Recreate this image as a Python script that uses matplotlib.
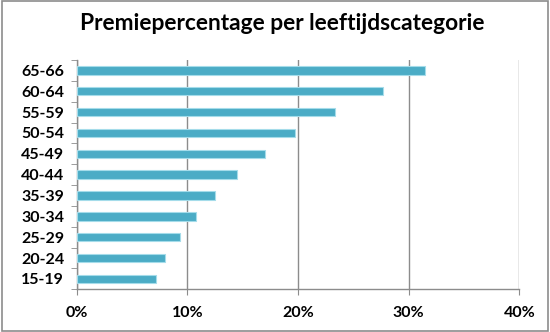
import matplotlib.pyplot as plt
from matplotlib.ticker import PercentFormatter
from matplotlib.patches import Rectangle

# leeftijdscategorieën van onder naar boven
categories = ['15-19', '20-24', '25-29', '30-34', '35-39', '40-44',
              '45-49', '50-54', '55-59', '60-64', '65-66']
premie = [7.2, 8.0, 9.3, 10.8, 12.5, 14.5, 17.0, 19.75, 23.3, 27.7, 31.5]
xticks = [0, 10, 20, 30, 40]

plt.rcParams['font.family'] = ['Lato', 'DejaVu Sans']

fig = plt.figure(figsize=(5.5, 3.32), dpi=100)
ax = fig.add_axes([76.7 / 550, 1 - 289.3 / 332, 442.6 / 550, 229.3 / 332])

y = range(len(categories))
ax.barh(y, premie, height=0.4, color='#4BACC6', edgecolor='#A5DCEA',
        linewidth=0.8, zorder=3)

ax.set_xlim(0, 40)
ax.set_ylim(-0.5, len(categories) - 0.5)
ax.set_xticks(xticks)
ax.xaxis.set_major_formatter(PercentFormatter(decimals=0))
ax.set_yticks(list(y))
ax.set_yticklabels(categories)
ax.set_yticks([i - 0.5 for i in range(len(categories) + 1)], minor=True)

ax.grid(axis='x', color='#8C8C8C', linewidth=1.0, zorder=0)
for side in ['top', 'right']:
    ax.spines[side].set_visible(False)
for side in ['left', 'bottom']:
    ax.spines[side].set_color('#8C8C8C')
    ax.spines[side].set_linewidth(1.0)

ax.tick_params(axis='y', which='major', length=0, pad=9,
               labelsize=11.5, labelcolor='black')
ax.tick_params(axis='y', which='minor', length=4, color='#8C8C8C', direction='out')
ax.tick_params(axis='x', length=4, color='#8C8C8C', pad=8,
               labelsize=11.5, labelcolor='black')
for lbl in ax.get_xticklabels() + ax.get_yticklabels():
    lbl.set_fontweight('bold')

fig.text(282 / 550, 1 - 23 / 332, 'Premiepercentage per leeftijdscategorie',
         ha='center', va='center', fontsize=16.4, fontweight='bold')

# rand om de hele grafiek
fig.patches.append(Rectangle((0.003, 0.004), 0.994, 0.992, transform=fig.transFigure,
                             fill=False, edgecolor='#8C8C8C', linewidth=1.2))

fig.savefig('out.png', dpi=100)
